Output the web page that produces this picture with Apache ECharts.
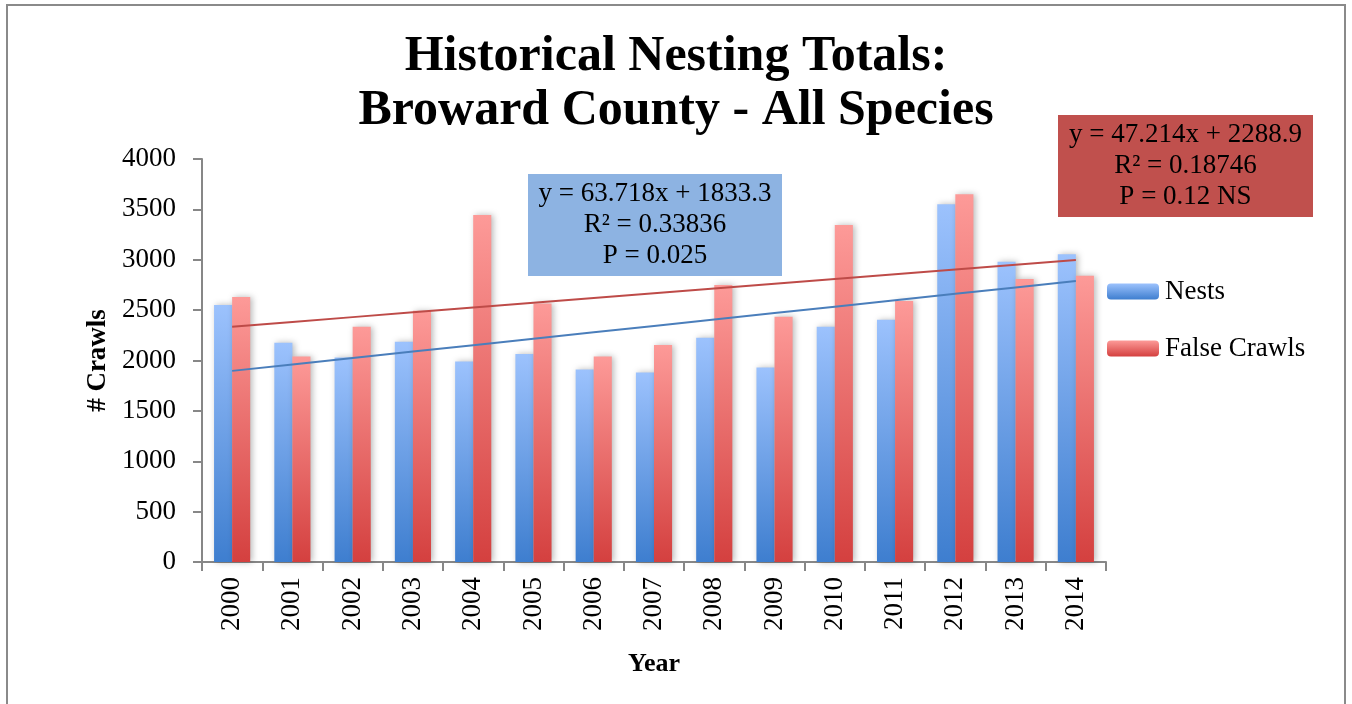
<!DOCTYPE html>
<html>
<head>
<meta charset="utf-8">
<title>Historical Nesting Totals: Broward County - All Species</title>
<script src="https://cdn.jsdelivr.net/npm/echarts@6/dist/echarts.min.js"></script>
<style>
  html, body { margin: 0; padding: 0; background: #ffffff; }
  #chart { width: 1352px; height: 704px; }
</style>
</head>
<body>
<div id="chart"></div>
<script>
// Nesting season totals per year
const years = ['2000','2001','2002','2003','2004','2005','2006','2007','2008','2009','2010','2011','2012','2013','2014'];
const nests = [2550, 2175, 2030, 2185, 1990, 2065, 1910, 1880, 2225, 1930, 2335, 2405, 3550, 2980, 3055];
const falseCrawls = [2630, 2040, 2335, 2495, 3445, 2565, 2040, 2155, 2750, 2435, 3345, 2590, 3650, 2810, 2840];

// Linear trend coefficients (x = 1 for the first year)
const nestsTrend = { slope: 63.718, intercept: 1833.3, r2: '0.33836', p: '0.025' };
const crawlsTrend = { slope: 47.214, intercept: 2288.9, r2: '0.18746', p: '0.12 NS' };

const yTicks = { min: 0, max: 4000, interval: 500 };

const FONT = 'Liberation Serif';

function trendValues(t) {
  return years.map((_, i) => +(t.slope * (i + 1) + t.intercept).toFixed(1));
}

function eqLines(t) {
  return [
    'y = ' + t.slope + 'x + ' + t.intercept,
    'R\u00B2 = ' + t.r2,
    'P = ' + t.p
  ].join('\n');
}

function grad(top, bottom) {
  return new echarts.graphic.LinearGradient(0, 0, 0, 1, [
    { offset: 0, color: top },
    { offset: 1, color: bottom }
  ]);
}

const chart = echarts.init(document.getElementById('chart'), null, { renderer: 'canvas' });

const option = {
  backgroundColor: '#ffffff',
  animation: false,
  title: {
    text: 'Historical Nesting Totals:\nBroward County - All Species',
    left: 'center',
    top: 30,
    padding: 0,
    textStyle: {
      fontFamily: FONT,
      fontSize: 50,
      fontWeight: 'bold',
      lineHeight: 54,
      color: '#000000'
    }
  },
  legend: {
    data: ['Nests', 'False Crawls'],
    orient: 'vertical',
    left: 1107,
    top: 278,
    itemWidth: 52,
    itemHeight: 16,
    itemGap: 30,
    padding: 0,
    textStyle: { fontFamily: FONT, fontSize: 27, color: '#000000', padding: [0, 0, 0, 1] }
  },
  grid: {
    left: 202,
    top: 159,
    width: 904,
    height: 403,
    containLabel: false
  },
  xAxis: {
    type: 'category',
    data: years,
    name: 'Year',
    nameLocation: 'middle',
    nameGap: 89,
    nameTextStyle: { fontFamily: FONT, fontSize: 26, fontWeight: 'bold', color: '#000000' },
    axisLine: { lineStyle: { color: '#878787', width: 2 } },
    axisTick: { show: true, length: 9, lineStyle: { color: '#878787', width: 2 } },
    axisLabel: {
      rotate: 90,
      margin: 15,
      fontFamily: FONT,
      fontSize: 27,
      color: '#000000'
    }
  },
  yAxis: {
    type: 'value',
    min: yTicks.min,
    max: yTicks.max,
    interval: yTicks.interval,
    name: '# Crawls',
    nameLocation: 'middle',
    nameRotate: 90,
    nameGap: 88,
    nameTextStyle: { fontFamily: FONT, fontSize: 27, fontWeight: 'bold', color: '#000000' },
    splitLine: { show: false },
    axisLine: { show: true, lineStyle: { color: '#878787', width: 2 } },
    axisTick: { show: true, length: 9, lineStyle: { color: '#878787', width: 2 } },
    axisLabel: {
      margin: 26,
      fontFamily: FONT,
      fontSize: 27,
      color: '#000000',
      formatter: (v) => String(v)
    }
  },
  series: [
    {
      name: 'Nests',
      type: 'bar',
      data: nests,
      barGap: '0%',
      barCategoryGap: '40%',
      itemStyle: {
        color: grad('#9cc2fd', '#3e7ecf'),
        shadowColor: 'rgba(0,0,0,0.28)',
        shadowBlur: 6,
        shadowOffsetX: 2
      }
    },
    {
      name: 'False Crawls',
      type: 'bar',
      data: falseCrawls,
      barGap: '0%',
      barCategoryGap: '40%',
      itemStyle: {
        color: grad('#fd9a98', '#d4403f'),
        shadowColor: 'rgba(0,0,0,0.28)',
        shadowBlur: 6,
        shadowOffsetX: 2
      }
    },
    {
      name: 'Nests trend',
      type: 'line',
      data: trendValues(nestsTrend),
      symbol: 'none',
      lineStyle: { color: '#4a7ebb', width: 2 },
      z: 5
    },
    {
      name: 'False Crawls trend',
      type: 'line',
      data: trendValues(crawlsTrend),
      symbol: 'none',
      lineStyle: { color: '#be4b48', width: 2 },
      z: 5
    }
  ],
  graphic: [
    {
      // outer frame
      type: 'rect',
      shape: { x: 7, y: 5, width: 1338, height: 720 },
      style: { fill: 'none', stroke: '#8a8a8a', lineWidth: 2 },
      silent: true
    },
    {
      type: 'group',
      left: 528,
      top: 174,
      children: [
        {
          type: 'rect',
          shape: { x: 0, y: 0, width: 254, height: 102 },
          style: { fill: '#8db3e2' }
        },
        {
          type: 'text',
          x: 127,
          y: 51,
          style: {
            text: eqLines(nestsTrend),
            fontFamily: FONT,
            fontSize: 27,
            lineHeight: 31,
            fill: '#000000',
            align: 'center',
            verticalAlign: 'middle'
          }
        }
      ]
    },
    {
      type: 'group',
      left: 1058,
      top: 115,
      children: [
        {
          type: 'rect',
          shape: { x: 0, y: 0, width: 255, height: 102 },
          style: { fill: '#c0504d' }
        },
        {
          type: 'text',
          x: 127.5,
          y: 51,
          style: {
            text: eqLines(crawlsTrend),
            fontFamily: FONT,
            fontSize: 27,
            lineHeight: 31,
            fill: '#000000',
            align: 'center',
            verticalAlign: 'middle'
          }
        }
      ]
    }
  ]
};

chart.setOption(option);
</script>
</body>
</html>
